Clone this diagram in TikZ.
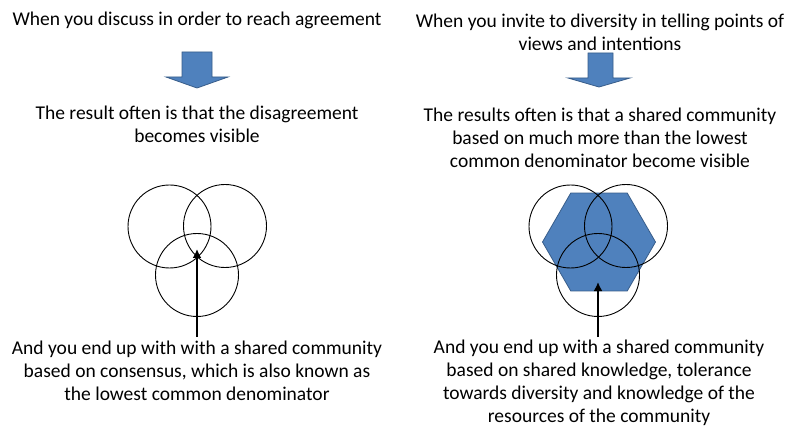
\documentclass[tikz,border=0pt]{standalone}
\usepackage{fontspec}
\setmainfont{Carlito}
\usetikzlibrary{shapes.geometric,arrows.meta}
\definecolor{fillblue}{RGB}{79,129,189}
\definecolor{lineblue}{RGB}{56,93,138}

\begin{document}
\begin{tikzpicture}[
            x = 1pt, y = -1pt, % pixel grid, y pointing down
            > = {Latex[length=9pt,width=9pt]}, % arrow head style
            txt/.style = {align=center, inner sep=0pt, font=\fontsize{19.5}{23}\selectfont},
            ring/.style = {circle, draw, line width=0.9pt, minimum size=83pt, inner sep=0pt},
            hexa/.style = {regular polygon, regular polygon sides=6, minimum size=113pt,
                           inner sep=0pt, fill=fillblue, draw=lineblue, line width=0.8pt},
            downarrow/.style = {fill=fillblue, draw=lineblue, line width=0.8pt},
            pointer/.style = {->, line width=2pt}
        ]

	\fill[white] (0,0) rectangle (800,438);
	\useasboundingbox (0,0) rectangle (800,438);

	% left side
	\node[txt] (A) at (197,20) {When you discuss in order to reach agreement};
	\node[txt] (B) at (197,124) {The result often is that the disagreement\\becomes visible};
	\node[txt] (C) at (197,371) {And you end up with with a shared community\\based on consensus, which is also known as\\the lowest common denominator};

	\draw[downarrow] (182,52) -- (212,52) -- (212,77) -- (228,77) -- (197,88) -- (166,77) -- (182,77) -- cycle;

	\node[ring] (C1) at (169.5,226.5) {};
	\node[ring] (C2) at (225,226) {};
	\node[ring] (C3) at (197,275) {};

	\coordinate (P) at (197,337);
	\coordinate (Q) at (197,249);
	\draw[pointer] (P) -- (Q);

	% right side
	\node[txt] (D) at (600,32) {When you invite to diversity in telling points of\\views and intentions};
	\node[txt] (E) at (600,138) {The results often is that a shared community\\based on much more than the lowest\\common denominator become visible};
	\node[txt] (F) at (599,383) {And you end up with a shared community\\based on shared knowledge, tolerance\\towards diversity and knowledge of the\\resources of the community};

	\draw[downarrow] (588,53) -- (613,53) -- (613,78) -- (630,78) -- (599,87) -- (568,78) -- (588,78) -- cycle;

	\node[hexa] (H) at (599,242) {};
	\node[ring] (C4) at (570.5,226.5) {};
	\node[ring] (C5) at (626,226) {};
	\node[ring] (C6) at (598,275) {};

	\coordinate (R) at (598,337);
	\coordinate (S) at (598,282);
	\draw[pointer] (R) -- (S);
\end{tikzpicture}
\end{document}
